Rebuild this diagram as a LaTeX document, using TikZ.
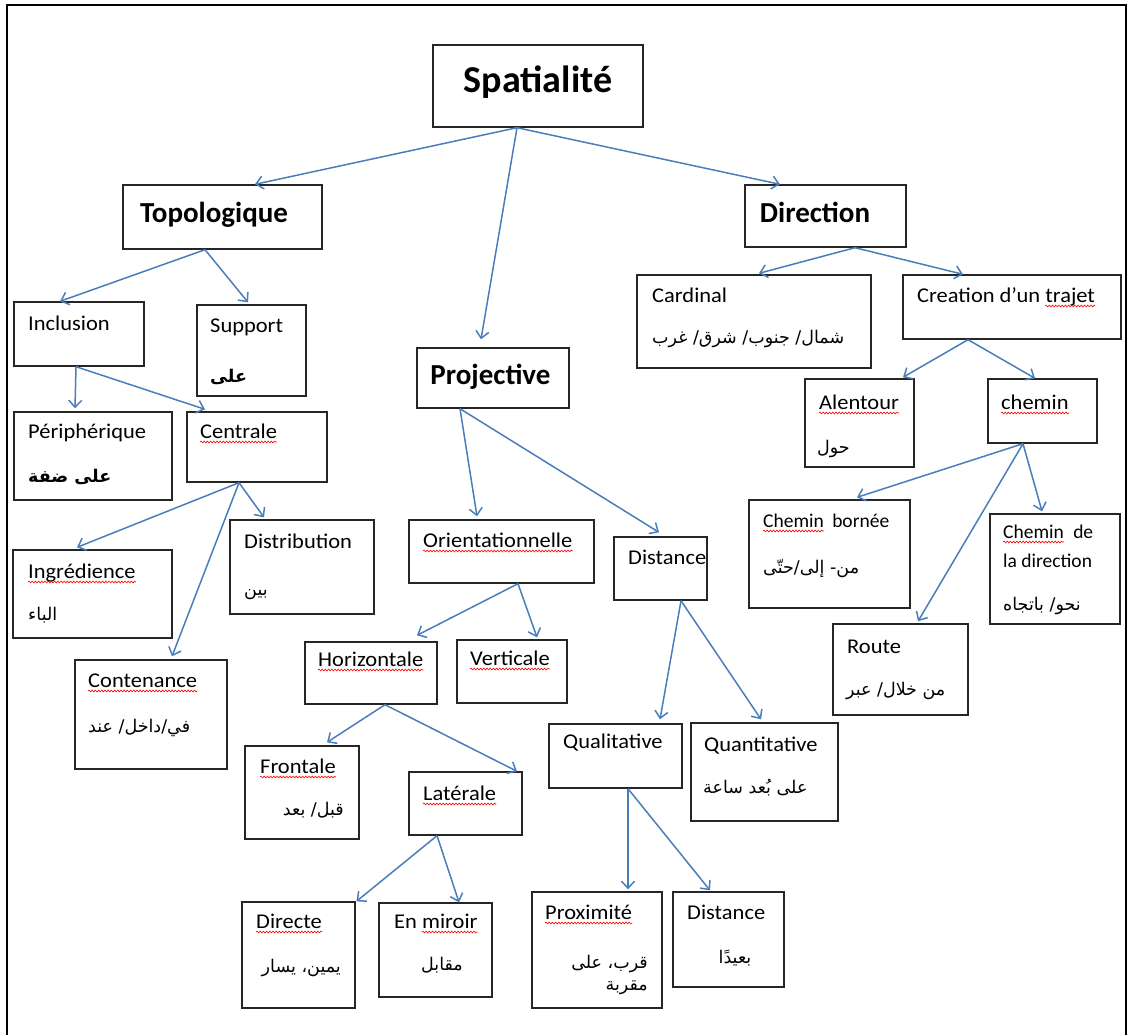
\documentclass[tikz,border=0pt]{standalone}
\usepackage{fontspec}
\setmainfont{Carlito}
\newfontfamily\widefont[FakeStretch=1.07]{Carlito}
\newfontfamily\arfont[Script=Arabic]{DejaVu Sans}
\TeXXeTstate=1
\usetikzlibrary{arrows.meta,decorations.pathmorphing}
\definecolor{arrowblue}{RGB}{74,126,187}
\newcommand\bx[5]{\node[cbox, minimum width=#4pt, minimum height=#5pt] (#1) at (#2,#3) {};}
\newcommand\tx[4]{\node[txt] (#1) at (#2,#3) {#4};}
\newcommand\wavyline[1]{\draw[spell] ([yshift=-4pt]#1.base west) -- ([yshift=-4pt]#1.base east);}
\begin{document}
\begin{tikzpicture}[x=1pt,y=-1pt,
  cbox/.style={draw=black!85, line width=1.4pt, fill=white, inner sep=0pt},
  txt/.style={inner sep=0pt, anchor=base west, font=\widefont\fontsize{21}{25}\selectfont},
  smalltxt/.style={inner sep=0pt, anchor=base west, font=\fontsize{19.5}{23}\selectfont},
  ttl/.style={inner sep=0pt, anchor=base, font=\fontsize{29}{34}\selectfont\bfseries},
  artx/.style={inner sep=0pt, font=\arfont\fontsize{17.5}{21}\selectfont},
  arbold/.style={inner sep=0pt, font=\arfont\fontsize{17.5}{21}\selectfont\bfseries},
  arr/.style={draw=arrowblue, line width=1.5pt, -{Straight Barb[length=7pt,width=13pt]}},
  spell/.style={draw=red, line width=0.6pt, decorate, decoration={snake, amplitude=0.9pt, segment length=3.2pt}}]
\useasboundingbox (0,0) rectangle (1133,1034);
\fill[white] (0,0) rectangle (1133,1034);
\draw[line width=2.5pt] (7,1036) -- (7,5) -- (1126,5) -- (1126,1036);
% boxes
\bx{sp}{538}{86}{210}{82}
\bx{topo}{222.5}{217}{199}{64}
\bx{dir}{825.5}{216}{161}{62}
\bx{proj}{493}{378}{152}{60}
\bx{incl}{79}{334}{130}{64}
\bx{supp}{251.5}{350.5}{109}{91}
\bx{peri}{93}{456}{158}{88}
\bx{cent}{257}{447}{140}{70}
\bx{ingr}{92.5}{594}{159}{88}
\bx{distr}{302}{567}{144}{94}
\bx{cont}{151}{714.5}{152}{109}
\bx{orie}{501.5}{551.5}{185}{63}
\bx{dmid}{660.5}{568.5}{93}{63}
\bx{hori}{371}{673}{132}{62}
\bx{vert}{512}{671.5}{110}{63}
\bx{fron}{302}{792.5}{114}{93}
\bx{late}{465.5}{803.5}{113}{63}
\bx{dire}{298.5}{955}{113}{106}
\bx{mirr}{435.5}{950}{113}{94}
\bx{qual}{615.5}{756}{133}{64}
\bx{quan}{764.5}{772}{147}{98}
\bx{prox}{597}{950}{130}{116}
\bx{dbot}{728.5}{939.5}{111}{95}
\bx{card}{754}{321.5}{234}{93}
\bx{crea}{1012}{307}{218}{64}
\bx{alen}{859.5}{423}{109}{88}
\bx{chem}{1042.5}{411}{109}{64}
\bx{born}{829.5}{554}{161}{108}
\bx{cdir}{1055}{569}{130}{110}
\bx{rout}{900.5}{669.5}{135}{91}
% titles
\node[ttl, font=\fontsize{38}{44}\selectfont\bfseries] (t-sp) at (538,92) {Spatialité};
\node[ttl] (t-topo) at (214,222) {Topologique};
\node[ttl] (t-dir) at (815,222) {Direction};
\node[ttl] (t-proj) at (490.5,384) {Projective};
% latin texts
\tx{t-incl}{28}{330}{Inclusion}
\tx{t-supp}{210}{332}{Support}
\tx{t-peri}{28}{438}{Périphérique}
\tx{t-cent}{200}{438}{Centrale}\wavyline{t-cent}
\tx{t-ingr}{28}{578}{Ingrédience}\wavyline{t-ingr}
\tx{t-distr}{244}{548}{Distribution}
\tx{t-cont}{88}{687}{Contenance}\wavyline{t-cont}
\tx{t-orie}{423}{547}{Orientationnelle}\wavyline{t-orie}
\tx{t-dmid}{628}{564}{Distance}
\tx{t-hori}{318}{666}{Horizontale}\wavyline{t-hori}
\tx{t-vert}{470}{665}{Verticale}\wavyline{t-vert}
\tx{t-fron}{260}{773}{Frontale}\wavyline{t-fron}
\tx{t-late}{423}{800}{Latérale}\wavyline{t-late}
\tx{t-dire}{256}{928}{Directe}\wavyline{t-dire}
\tx{t-mirra}{394}{928}{En}
\node[txt] (t-mirrb) at ([xshift=4.7pt]t-mirra.base east) {miroir};\wavyline{t-mirrb}
\tx{t-qual}{563}{748}{Qualitative}
\tx{t-quan}{704}{751}{Quantitative}
\tx{t-prox}{545}{919}{Proximité}\wavyline{t-prox}
\tx{t-dbot}{687}{919}{Distance}
\tx{t-card}{652}{302}{Cardinal}
\tx{t-creaa}{917}{302}{Creation d’un}
\node[txt] (t-creab) at ([xshift=4.7pt]t-creaa.base east) {trajet};\wavyline{t-creab}
\tx{t-alen}{819}{409}{Alentour}\wavyline{t-alen}
\tx{t-chem}{1001}{409}{chemin}\wavyline{t-chem}
\node[smalltxt] (t-borna) at (763,527) {Chemin};\wavyline{t-borna}
\node[smalltxt] (t-bornb) at ([xshift=8pt]t-borna.base east) {bornée};
\node[smalltxt] (t-cdira) at (1003,538) {Chemin};\wavyline{t-cdira}
\node[smalltxt] (t-cdirb) at ([xshift=9pt]t-cdira.base east) {de};
\node[smalltxt] (t-cdirc) at (1003,567) {la direction};
\tx{t-rout}{847}{653}{Route}
% arabic texts
\node[arbold, anchor=base west] (a-supp) at (210,382) {\beginR على\endR};
\node[arbold, anchor=base west] (a-peri) at (28,482) {\beginR على ضفة\endR};
\node[artx, anchor=base west] (a-ingr) at (28,620) {\beginR الباء\endR};
\node[artx, anchor=base west] (a-distr) at (244,595) {\beginR بين\endR};
\node[artx, anchor=base west] (a-cont) at (88,732) {\beginR في/داخل/ عند\endR};
\node[artx, anchor=base east] (a-fron) at (344,815) {\beginR قبل/ بعد\endR};
\node[artx, anchor=base east] (a-dire) at (341,972) {\beginR يمين، يسار\endR};
\node[artx, anchor=base] (a-mirr) at (442,970) {\beginR مقابل\endR};
\node[artx, anchor=base west] (a-quan) at (703,793) {\beginR على بُعد ساعة\endR};
\node[artx, anchor=base east] (a-prox1) at (648,968) {\beginR قرب، على\endR};
\node[artx, anchor=base east] (a-prox2) at (648,990) {\beginR مقربة\endR};
\node[artx, anchor=base] (a-dbot) at (735,963) {\beginR بعيدًا\endR};
\node[artx, anchor=base west] (a-card) at (652,343) {\beginR شمال/ جنوب/ شرق/ غرب\endR};
\node[artx, anchor=base west] (a-alen) at (817,453) {\beginR حول\endR};
\node[artx, anchor=base west] (a-born) at (763,573) {\beginR من- إلى/حتّى\endR};
\node[artx, anchor=base west] (a-cdir) at (1003,610) {\beginR نحو/ باتجاه\endR};
\node[artx, anchor=base west] (a-rout) at (846,695) {\beginR من خلال/ عبر\endR};
% arrows
\draw[arr] ([xshift=-21pt]sp.south) -- ([xshift=32.5pt]topo.north);
\draw[arr] ([xshift=-21pt]sp.south) -- ([xshift=-45.5pt]dir.north);
\draw[arr] ([xshift=-21pt]sp.south) -- ([xshift=-12pt,yshift=8pt]proj.north);
\draw[arr] ([xshift=-17.5pt]topo.south) -- ([xshift=-19pt]incl.north);
\draw[arr] ([xshift=-17.5pt]topo.south) -- ([xshift=-3.5pt,yshift=2pt]supp.north);
\draw[arr] ([xshift=-3pt]incl.south) -- ([xshift=-18pt,yshift=3pt]peri.north);
\draw[arr] ([xshift=-3pt]incl.south) -- ([xshift=-52pt,yshift=2pt]cent.north);
\draw[arr] ([xshift=-18pt]cent.south) -- ([xshift=-15.5pt,yshift=2pt]ingr.north);
\draw[arr] ([xshift=-18pt]cent.south) -- ([xshift=-38pt,yshift=2pt]distr.north);
\draw[arr] ([xshift=-18pt]cent.south) -- ([xshift=21pt,yshift=3pt]cont.north);
\draw[arr] ([xshift=-33pt]proj.south) -- ([xshift=-24.5pt,yshift=3pt]orie.north);
\draw[arr] ([xshift=-33pt]proj.south) -- ([xshift=-1.5pt,yshift=4pt]dmid.north);
\draw[arr] ([xshift=16.5pt]orie.south) -- ([xshift=46pt,yshift=6pt]hori.north);
\draw[arr] ([xshift=16.5pt]orie.south) -- ([xshift=25pt,yshift=2pt]vert.north);
\draw[arr] ([xshift=14pt]hori.south) -- ([xshift=25pt,yshift=3pt]fron.north);
\draw[arr] ([xshift=14pt]hori.south) -- ([xshift=51.5pt]late.north);
\draw[arr] ([xshift=-28.5pt]late.south) -- ([xshift=58pt]dire.north);
\draw[arr] ([xshift=-28.5pt]late.south) -- ([xshift=23.5pt]mirr.north);
\draw[arr] ([xshift=20.5pt]dmid.south) -- ([xshift=44.5pt,yshift=4pt]qual.north);
\draw[arr] ([xshift=20.5pt]dmid.south) -- ([xshift=-3.5pt,yshift=3pt]quan.north);
\draw[arr] ([xshift=12.5pt]qual.south) -- ([xshift=31pt,yshift=2pt]prox.north);
\draw[arr] ([xshift=12.5pt]qual.south) -- ([xshift=-18.5pt,yshift=1pt]dbot.north);
\draw[arr] ([xshift=29.5pt]dir.south) -- ([xshift=5pt,yshift=1pt]card.north);
\draw[arr] ([xshift=29.5pt]dir.south) -- ([xshift=-49pt]crea.north);
\draw[arr] ([xshift=-44pt]crea.south) -- ([xshift=43.5pt,yshift=1pt]alen.north);
\draw[arr] ([xshift=-44pt]crea.south) -- ([xshift=-7.5pt]chem.north);
\draw[arr] ([xshift=-19.5pt]chem.south) -- ([xshift=27.5pt,yshift=2pt]born.north);
\draw[arr] ([xshift=-19.5pt]chem.south) -- ([xshift=-13pt,yshift=2pt]cdir.north);
\draw[arr] ([xshift=-19.5pt]chem.south) -- ([xshift=17.5pt,yshift=2pt]rout.north);
\end{tikzpicture}
\end{document}
